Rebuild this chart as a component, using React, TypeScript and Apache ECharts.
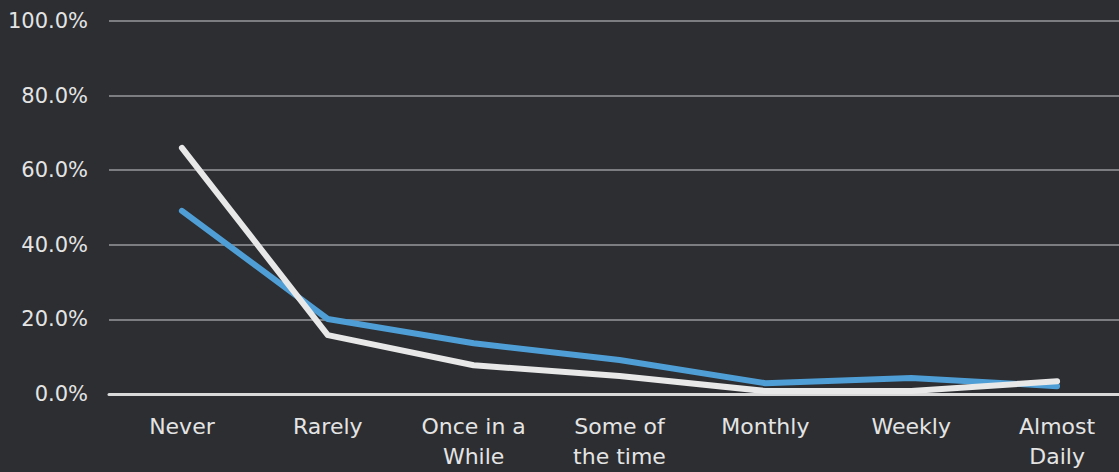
import React, { useEffect, useRef } from "react";
import * as echarts from "echarts";

const categories = [
  "Never",
  "Rarely",
  "Once in a\nWhile",
  "Some of\nthe time",
  "Monthly",
  "Weekly",
  "Almost\nDaily",
];

const blueSeries = [49.1, 20.1, 13.6, 9.1, 2.9, 4.3, 2.1];
const whiteSeries = [66.0, 15.8, 7.7, 4.8, 0.8, 0.8, 3.4];

const yTicks = [0, 20, 40, 60, 80, 100];

export default function App() {
  const ref = useRef<HTMLDivElement>(null);

  useEffect(() => {
    if (!ref.current) return;
    const chart = echarts.init(ref.current, null, { renderer: "svg" });
    const font = "'DejaVu Sans', Lato, sans-serif";
    chart.setOption({
      animation: false,
      backgroundColor: "#2c2e32",
      grid: { left: 109, top: 21, width: 1021, height: 373, containLabel: false },
      xAxis: {
        type: "category",
        data: categories,
        boundaryGap: true,
        axisLine: { show: true, lineStyle: { color: "#d9d9d9", width: 3 } },
        axisTick: { show: false },
        splitLine: { show: false },
        axisLabel: {
          color: "#e4e4e4",
          fontFamily: font,
          fontSize: 22,
          lineHeight: 30,
          margin: 17,
          interval: 0,
        },
      },
      yAxis: {
        type: "value",
        min: yTicks[0],
        max: yTicks[yTicks.length - 1],
        interval: 20,
        axisLine: { show: false },
        axisTick: { show: false },
        splitLine: { show: true, lineStyle: { color: "#7c7d80", width: 2 } },
        axisLabel: {
          color: "#e4e4e4",
          fontFamily: font,
          fontSize: 21,
          margin: 21,
          formatter: (v: number) => v.toFixed(1) + "%",
        },
      },
      series: [
        {
          type: "line",
          data: blueSeries,
          symbol: "none",
          lineStyle: { color: "#4f9fd6", width: 6, cap: "round", join: "round" },
          z: 2,
        },
        {
          type: "line",
          data: whiteSeries,
          symbol: "none",
          lineStyle: { color: "#e8e8e8", width: 6, cap: "round", join: "round" },
          z: 3,
        },
      ],
    });
    return () => chart.dispose();
  }, []);

  // The plot area runs slightly past the right edge, so the chart canvas is
  // wider than the visible frame and clipped by it.
  return (
    <div
      style={{
        position: "fixed",
        left: 0,
        top: 0,
        width: 1119,
        height: 472,
        overflow: "hidden",
        background: "#2c2e32",
      }}
    >
      <div ref={ref} style={{ width: 1140, height: 472 }} />
    </div>
  );
}
